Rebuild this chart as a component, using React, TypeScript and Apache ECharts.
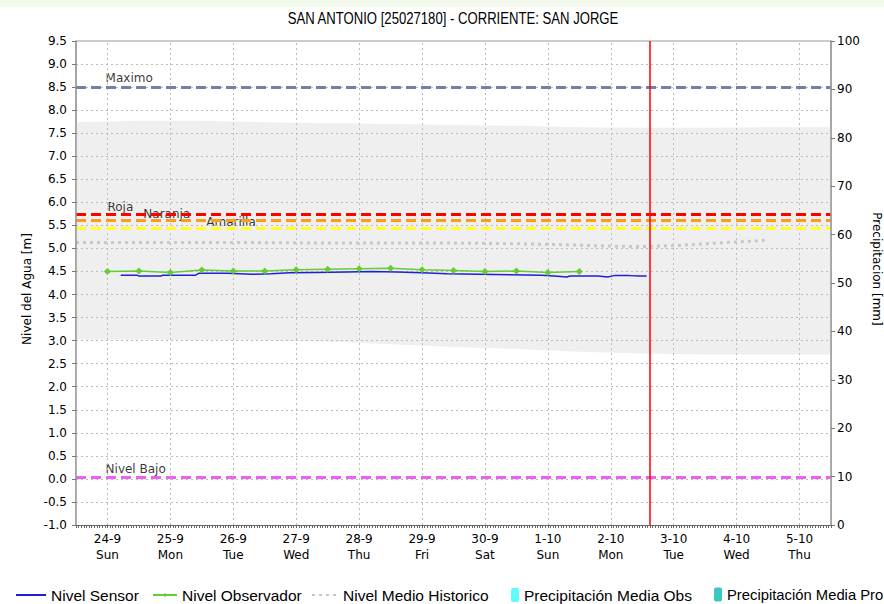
import React, { useEffect, useRef } from "react";
import * as echarts from "echarts";

const TITLE = "SAN ANTONIO [25027180] - CORRIENTE: SAN JORGE";

// x axis: days counted from 24-9 (0) to 5-10 (11)
const dayLabels = ["24-9", "25-9", "26-9", "27-9", "28-9", "29-9", "30-9", "1-10", "2-10", "3-10", "4-10", "5-10"];
const weekdayLabels = ["Sun", "Mon", "Tue", "Wed", "Thu", "Fri", "Sat", "Sun", "Mon", "Tue", "Wed", "Thu"];
const dayTicks = [0, 1, 2, 3, 4, 5, 6, 7, 8, 9, 10, 11];
const X_MIN = -0.5;
const X_MAX = 11.5;
const NOW_DAY = 8.62;

// left axis ticks [m]
const levelTicks = [-1, -0.5, 0, 0.5, 1, 1.5, 2, 2.5, 3, 3.5, 4, 4.5, 5, 5.5, 6, 6.5, 7, 7.5, 8, 8.5, 9, 9.5];

// Nivel Sensor [m]
const sensorDays = [0.21, 0.47, 0.5, 0.85, 0.88, 1.4, 1.45, 1.9, 2.1, 2.3, 2.6, 2.9, 3.3, 3.8, 4.2, 4.6, 5.0, 5.4, 5.9, 6.4, 6.9, 7.1, 7.3, 7.35, 7.8, 7.95, 8.05, 8.3, 8.45, 8.57];
const sensorValues = [4.42, 4.42, 4.4, 4.4, 4.42, 4.42, 4.46, 4.46, 4.45, 4.44, 4.45, 4.47, 4.48, 4.49, 4.5, 4.49, 4.47, 4.45, 4.44, 4.43, 4.42, 4.4, 4.38, 4.4, 4.4, 4.38, 4.41, 4.41, 4.4, 4.4];

// Nivel Observador [m]
const observerDays = [0, 0.5, 1, 1.5, 2, 2.5, 3, 3.5, 4, 4.5, 5, 5.5, 6, 6.5, 7, 7.5];
const observerValues = [4.5, 4.51, 4.48, 4.53, 4.51, 4.51, 4.54, 4.55, 4.56, 4.57, 4.54, 4.52, 4.5, 4.51, 4.48, 4.5];

// Nivel Medio Historico [m]
const historicDays = [-0.5, 0, 1, 2, 3, 4, 5, 6, 6.5, 7, 7.5, 8, 8.5, 9, 9.5, 10, 10.5];
const historicValues = [5.13, 5.13, 5.13, 5.13, 5.12, 5.12, 5.12, 5.11, 5.1, 5.09, 5.07, 5.05, 5.04, 5.06, 5.1, 5.14, 5.18];

// historic envelope (min / max) [m]
const bandDays = [-0.5, 0.5, 1.5, 2.5, 3.5, 4.5, 5.5, 6.5, 7.5, 8.5, 9.5, 10.5, 11.5];
const bandLower = [3.02, 3.02, 3.0, 3.0, 2.98, 2.92, 2.86, 2.82, 2.76, 2.72, 2.7, 2.7, 2.7];
const bandUpper = [7.74, 7.77, 7.77, 7.74, 7.72, 7.7, 7.68, 7.66, 7.63, 7.62, 7.62, 7.63, 7.63];

// precipitation [mm] (no values in this period)
const precipObsDays: number[] = [];
const precipObsValues: number[] = [];
const precipProDays: number[] = [];
const precipProValues: number[] = [];

// threshold levels [m]
const thresholdNames = ["Maximo", "Roja", "Naranja", "Amarilla", "Nivel Bajo"];
const thresholdValues = [8.5, 5.75, 5.61, 5.44, 0.03];
const thresholdColors = ["#7381a6", "#ff0000", "#ff9a1a", "#ffff22", "#f060f0"];
const thresholdLabelDays = [-0.03, 0.0, 0.57, 1.57, -0.03];
const thresholdLabelLift = [-15, -13, -12, -12, -15];

const AXIS_FONT = "'DejaVu Sans', Verdana, sans-serif";
const GRID_LINE = { color: "#bdbdbd", type: [2, 3], width: 1 };

export default function App() {
  const ref = useRef<HTMLDivElement>(null);

  useEffect(() => {
    if (!ref.current) return;
    const chart = echarts.init(ref.current, undefined, { renderer: "svg" });

    const hourTicks: number[] = [];
    for (let h = 0; h <= 288; h++) hourTicks.push(X_MIN + h / 24);

    const zip = (xs: number[], ys: number[]) => xs.map((x, i) => [x, ys[i]]);

    const option: any = {
      animation: false,
      backgroundColor: "transparent",
      graphic: [
        {
          type: "text",
          x: 453,
          y: 19,
          scaleX: 0.82,
          silent: true,
          style: {
            text: TITLE,
            font: "16px 'Liberation Sans', Arial, sans-serif",
            fill: "#000",
            align: "center",
            verticalAlign: "middle",
          },
        },
      ],
      grid: {
        left: 76,
        right: 53,
        top: 41,
        bottom: 79,
        outerBoundsMode: "none",
        containLabel: false,
        show: true,
        borderColor: "#999",
        borderWidth: 1,
        backgroundColor: "transparent",
      },
      legend: [
        { name: "Nivel Sensor", left: 15, w: 30, h: 14, hide: true, fs: 15.5 },
        { name: "Nivel Observador", left: 152, w: 24, h: 5, hide: false, fs: 15.5 },
        { name: "Nivel Medio Historico", left: 311, w: 26, h: 14, hide: true, fs: 15.5 },
        { name: "Precipitación Media Obs", left: 511, w: 8, h: 14, hide: false, fs: 15.5 },
        { name: "Precipitación Media Pro", left: 714, w: 8, h: 14, hide: false, fs: 14.8 },
      ].map((l) => ({
        data: [l.name],
        left: l.left,
        top: 587,
        itemWidth: l.w,
        itemHeight: l.h,
        itemGap: 0,
        padding: 0,
        selectedMode: false,
        itemStyle: l.hide ? { opacity: 0 } : {},
        textStyle: { fontFamily: "'Liberation Sans', Arial, sans-serif", fontSize: l.fs, color: "#000" },
      })),
      xAxis: {
        type: "value",
        min: X_MIN,
        max: X_MAX,
        z: 10,
        splitLine: { show: false },
        axisLine: { show: true, onZero: false, lineStyle: { color: "#666", width: 1 } },
        axisTick: { show: true, customValues: hourTicks, length: 3, inside: false, lineStyle: { color: "#666", width: 1 } },
        axisLabel: {
          customValues: dayTicks,
          formatter: (v: number) => {
            const i = Math.round(v);
            return dayLabels[i] + "\n" + weekdayLabels[i];
          },
          fontFamily: AXIS_FONT,
          fontSize: 12,
          lineHeight: 16,
          color: "#000",
          margin: 6,
        },
      },
      yAxis: [
        {
          type: "value",
          min: -1,
          max: 9.5,
          interval: 0.5,
          z: 10,
          name: "Nivel del Agua [m]",
          nameLocation: "middle",
          nameGap: 40,
          nameTextStyle: { fontFamily: AXIS_FONT, fontSize: 12, color: "#000", padding: [0, 12, 0, 0] },
          axisLine: { show: true, onZero: false, lineStyle: { color: "#999", width: 1.5 } },
          axisTick: { show: true, length: 4, lineStyle: { color: "#777" } },
          axisLabel: {
            formatter: (v: number) => v.toFixed(1),
            fontFamily: AXIS_FONT,
            fontSize: 12,
            color: "#000",
            margin: 9,
          },
          splitLine: { show: false },
        },
        {
          type: "value",
          position: "right",
          min: 0,
          max: 100,
          interval: 10,
          z: 10,
          name: "Precipitacion [mm]",
          nameLocation: "middle",
          nameRotate: -90,
          nameGap: 38,
          nameTextStyle: { fontFamily: AXIS_FONT, fontSize: 12, color: "#000", padding: [0, 28, 0, 0] },
          axisLine: { show: true, onZero: false, lineStyle: { color: "#999", width: 1.5 } },
          axisTick: { show: true, length: 4, lineStyle: { color: "#777" } },
          axisLabel: { fontFamily: AXIS_FONT, fontSize: 12, color: "#000", margin: 6 },
          splitLine: { show: false },
        },
      ],
      series: [
        {
          name: "bandUpper",
          type: "line",
          data: zip(bandDays, bandUpper),
          symbol: "none",
          lineStyle: { width: 0, opacity: 0 },
          areaStyle: { color: "#efefef", opacity: 1, origin: "start" },
          silent: true,
          z: 1,
        },
        {
          name: "bandLower",
          type: "line",
          data: zip(bandDays, bandLower),
          symbol: "none",
          lineStyle: { width: 0, opacity: 0 },
          areaStyle: { color: "#ffffff", opacity: 1, origin: "start" },
          silent: true,
          z: 1,
        },
        {
          name: "grid",
          type: "scatter",
          data: [],
          silent: true,
          z: 2,
          markLine: {
            silent: true,
            symbol: ["none", "none"],
            label: { show: false },
            lineStyle: GRID_LINE,
            data: [
              ...dayTicks.map((d) => ({ xAxis: d })),
              ...levelTicks.filter((v) => v > -1 && v < 9.5).map((v) => ({ yAxis: v })),
            ],
          },
        },
        {
          name: "thresholds",
          type: "scatter",
          data: thresholdNames.map((n, i) => ({
            name: n,
            value: [thresholdLabelDays[i], thresholdValues[i]],
            label: { position: [0, thresholdLabelLift[i]] },
          })),
          symbolSize: 0,
          silent: true,
          z: 3,
          label: {
            show: true,
            formatter: "{b}",
            fontFamily: AXIS_FONT,
            fontSize: 12,
            color: "#000",
          },
          markLine: {
            silent: true,
            symbol: ["none", "none"],
            label: { show: false },
            data: thresholdValues.map((v, i) => ({
              yAxis: v,
              lineStyle: { color: thresholdColors[i], width: 3, type: [10, 5] },
            })),
          },
        },
        {
          name: "Nivel Medio Historico",
          type: "line",
          data: zip(historicDays, historicValues),
          symbol: "none",
          lineStyle: { color: "#c8c8c8", width: 3, type: [3, 4] },
          itemStyle: { color: "#c8c8c8" },
          z: 4,
        },
        {
          name: "Nivel Sensor",
          type: "line",
          data: zip(sensorDays, sensorValues),
          symbol: "none",
          lineStyle: { color: "#1f1fd8", width: 1.5 },
          itemStyle: { color: "#1f1fd8" },
          z: 5,
        },
        {
          name: "Nivel Observador",
          type: "line",
          data: zip(observerDays, observerValues),
          symbol: "diamond",
          symbolSize: 7,
          showSymbol: true,
          lineStyle: { color: "#66cc33", width: 1.5 },
          itemStyle: { color: "#66cc33" },
          z: 6,
        },
        {
          name: "Precipitación Media Obs",
          type: "bar",
          yAxisIndex: 1,
          data: zip(precipObsDays, precipObsValues),
          itemStyle: { color: "#5cfcff" },
        },
        {
          name: "Precipitación Media Pro",
          type: "bar",
          yAxisIndex: 1,
          data: zip(precipProDays, precipProValues),
          itemStyle: { color: "#3cc8c2" },
        },
        {
          name: "now",
          type: "scatter",
          data: [],
          silent: true,
          z: 7,
          markLine: {
            silent: true,
            symbol: ["none", "none"],
            label: { show: false },
            lineStyle: { color: "#ff0000", width: 1.5, type: "solid" },
            data: [{ xAxis: NOW_DAY }],
          },
        },
      ],
    };

    chart.setOption(option);
    return () => chart.dispose();
  }, []);

  return (
    <div style={{ position: "fixed", left: 0, top: 0, width: 884, height: 604, background: "#fff", overflow: "hidden" }}>
      <div style={{ position: "absolute", left: 0, top: 0, width: 884, height: 7, background: "#f3f9ec" }} />
      <div ref={ref} style={{ position: "absolute", left: 0, top: 0, width: 884, height: 604 }} />
    </div>
  );
}
